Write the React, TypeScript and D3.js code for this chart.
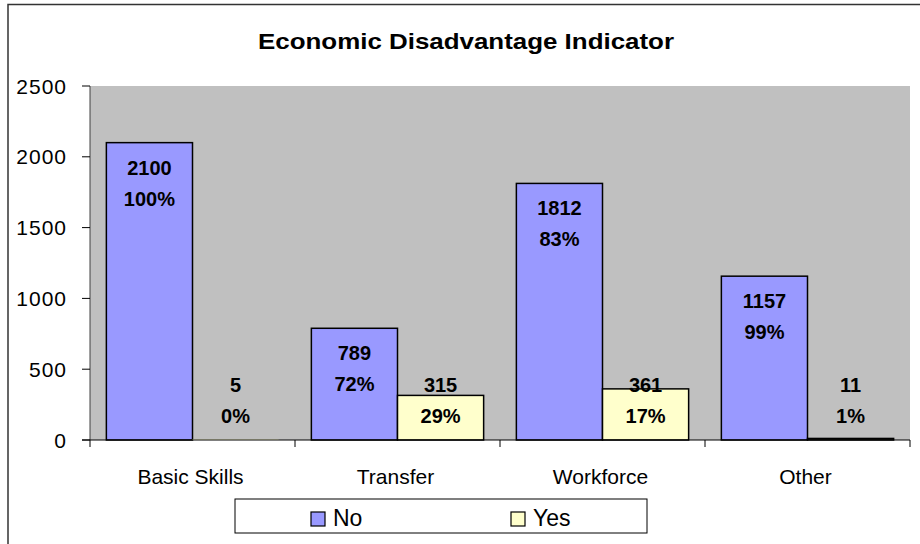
import React, { useEffect, useRef } from 'react';
import * as d3 from 'd3';

const categories = ['Basic Skills', 'Transfer', 'Workforce', 'Other'];
const seriesNames = ['No', 'Yes'];
const noValues = [2100, 789, 1812, 1157];
const yesValues = [5, 315, 361, 11];
const noPercents = ['100%', '72%', '83%', '99%'];
const yesPercents = ['0%', '29%', '17%', '1%'];
const yTicks = [0, 500, 1000, 1500, 2000, 2500];

const colors: Record<string, string> = { No: '#9999FF', Yes: '#FFFFCC' };
const FONT = 'Arial, "Liberation Sans", Helvetica, sans-serif';

const App = () => {
  const ref = useRef<SVGSVGElement | null>(null);

  useEffect(() => {
    if (!ref.current) return;
    const svg = d3.select(ref.current);
    svg.selectAll('*').remove();

    const W = 920, H = 544;
    const plot = { left: 90, right: 910, top: 86, bottom: 440 };

    // outer frame (only top and left visible)
    svg.append('path')
      .attr('d', `M8,${H} L8,4.5 L${W},4.5`)
      .attr('fill', 'none')
      .attr('stroke', '#333')
      .attr('stroke-width', 1.5);

    // title
    svg.append('text')
      .attr('x', 466)
      .attr('y', 49)
      .attr('text-anchor', 'middle')
      .attr('font-family', FONT)
      .attr('font-weight', 'bold')
      .attr('font-size', 22)
      .attr('textLength', 416)
      .attr('lengthAdjust', 'spacingAndGlyphs')
      .text('Economic Disadvantage Indicator');

    const x = d3.scaleBand().domain(categories).range([plot.left, plot.right]);
    const x1 = d3.scaleBand().domain(seriesNames).range([0, x.bandwidth()]).paddingOuter(0.19);
    const y = d3.scaleLinear().domain([0, 2500]).range([plot.bottom, plot.top]);

    // plot area
    svg.append('rect')
      .attr('x', plot.left)
      .attr('y', plot.top)
      .attr('width', plot.right - plot.left)
      .attr('height', plot.bottom - plot.top)
      .attr('fill', '#C0C0C0');

    // y axis
    const yAxis = svg.append('g');
    yAxis.append('line')
      .attr('x1', plot.left).attr('x2', plot.left)
      .attr('y1', plot.top).attr('y2', plot.bottom)
      .attr('stroke', '#404040');
    yAxis.selectAll('line.tick')
      .data(yTicks)
      .enter()
      .append('line')
      .attr('class', 'tick')
      .attr('x1', plot.left - 8).attr('x2', plot.left)
      .attr('y1', d => y(d)).attr('y2', d => y(d))
      .attr('stroke', '#000');
    yAxis.selectAll('text')
      .data(yTicks)
      .enter()
      .append('text')
      .attr('x', 67)
      .attr('y', d => y(d) + 7.5)
      .attr('text-anchor', 'end')
      .attr('font-family', FONT)
      .attr('font-size', 21)
      .attr('letter-spacing', 1)
      .text(d => d);

    // bars
    const rows = categories.flatMap((c, i) => [
      { cat: c, key: 'No', value: noValues[i], pct: noPercents[i] },
      { cat: c, key: 'Yes', value: yesValues[i], pct: yesPercents[i] },
    ]);

    svg.selectAll('rect.bar')
      .data(rows)
      .enter()
      .append('rect')
      .attr('class', 'bar')
      .attr('x', d => (x(d.cat) as number) + (x1(d.key) as number))
      .attr('y', d => y(d.value))
      .attr('width', x1.bandwidth())
      .attr('height', d => y(0) - y(d.value))
      .attr('fill', d => colors[d.key])
      .attr('stroke', d => (y(0) - y(d.value) < 1 ? 'none' : '#000'))
      .attr('stroke-width', 1.5);

    // x axis
    svg.append('line')
      .attr('x1', plot.left - 8).attr('x2', plot.right)
      .attr('y1', plot.bottom).attr('y2', plot.bottom)
      .attr('stroke', '#000');
    const xTicks = [...categories.map(c => x(c) as number), plot.right];
    svg.selectAll('line.xtick')
      .data(xTicks)
      .enter()
      .append('line')
      .attr('class', 'xtick')
      .attr('x1', d => d).attr('x2', d => d)
      .attr('y1', plot.bottom).attr('y2', plot.bottom + 7)
      .attr('stroke', '#000');
    svg.selectAll('text.cat')
      .data(categories)
      .enter()
      .append('text')
      .attr('class', 'cat')
      .attr('x', d => (x(d) as number) + x.bandwidth() / 2 - 2)
      .attr('y', 484)
      .attr('text-anchor', 'middle')
      .attr('font-family', FONT)
      .attr('font-size', 21)
      .text(d => d);

    // data labels
    const labelG = svg.append('g')
      .attr('font-family', FONT)
      .attr('font-weight', 'bold')
      .attr('font-size', 20)
      .attr('text-anchor', 'middle');
    const labelBase = (v: number) => Math.min(y(v) + 32, 392);
    labelG.selectAll('text.val')
      .data(rows)
      .enter()
      .append('text')
      .attr('class', 'val')
      .attr('x', d => (x(d.cat) as number) + (x1(d.key) as number) + x1.bandwidth() / 2)
      .attr('y', d => labelBase(d.value))
      .text(d => d.value);
    labelG.selectAll('text.pct')
      .data(rows)
      .enter()
      .append('text')
      .attr('class', 'pct')
      .attr('x', d => (x(d.cat) as number) + (x1(d.key) as number) + x1.bandwidth() / 2)
      .attr('y', d => labelBase(d.value) + 31)
      .text(d => d.pct);

    // legend
    const legend = svg.append('g');
    legend.append('rect')
      .attr('x', 235).attr('y', 499)
      .attr('width', 412).attr('height', 34)
      .attr('fill', '#fff')
      .attr('stroke', '#000');
    const legendX = d3.scalePoint().domain(seriesNames).range([311, 511]);
    const items = legend.selectAll('g.item')
      .data(seriesNames)
      .enter()
      .append('g')
      .attr('class', 'item')
      .attr('transform', d => `translate(${legendX(d)},0)`);
    items.append('rect')
      .attr('x', 0).attr('y', 512)
      .attr('width', 14).attr('height', 14)
      .attr('fill', d => colors[d])
      .attr('stroke', '#000')
      .attr('stroke-width', 1.2);
    items.append('text')
      .attr('x', 22).attr('y', 526)
      .attr('font-family', FONT)
      .attr('font-size', 23)
      .text(d => d);
  }, []);

  return (
    <svg
      ref={ref}
      width={920}
      height={544}
      style={{ position: 'absolute', left: 0, top: 0, background: '#fff' }}
    />
  );
};

export default App;
